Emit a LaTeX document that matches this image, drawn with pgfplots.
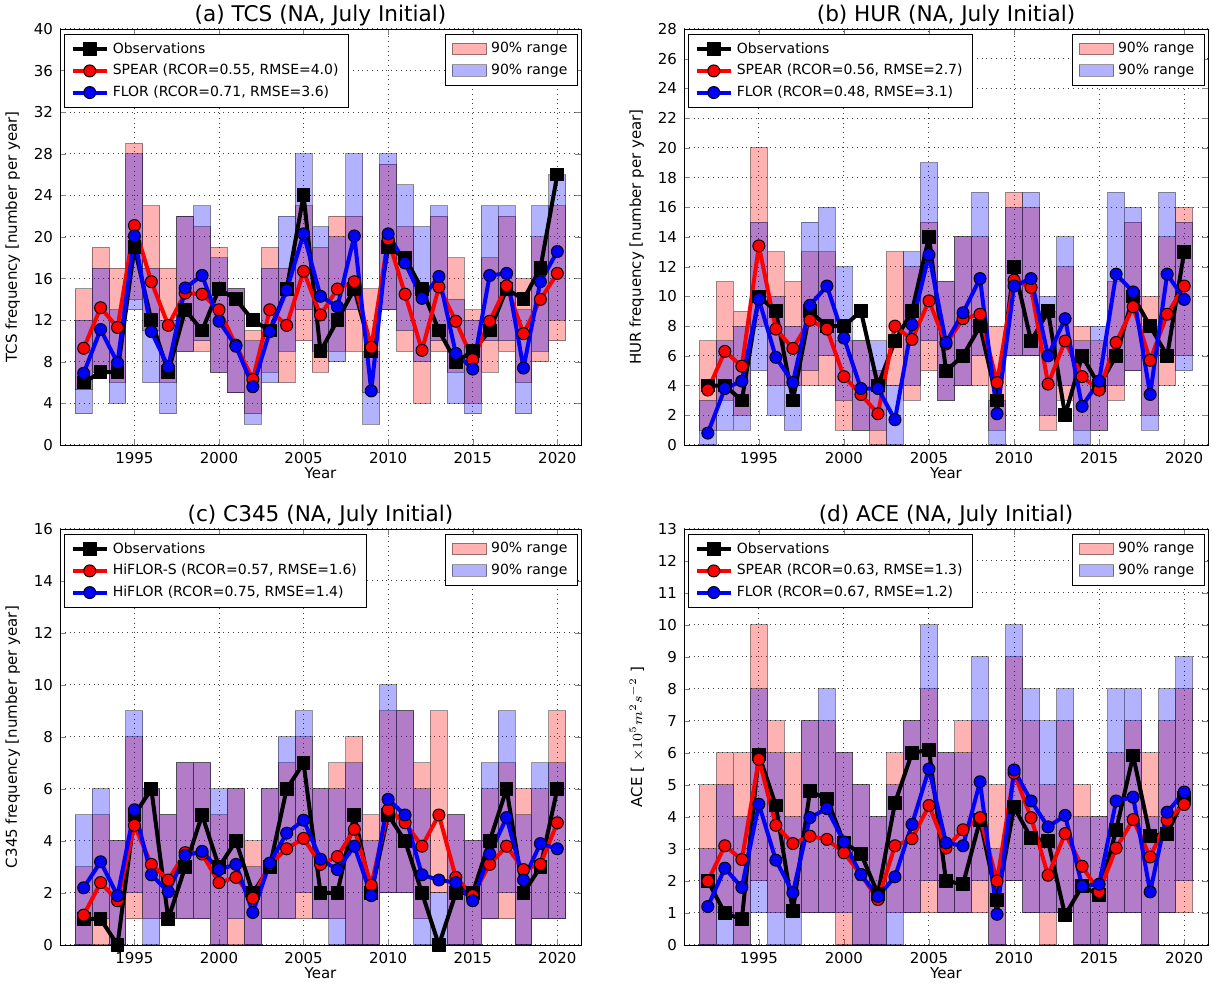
\documentclass[border=0pt]{standalone}
\usepackage{fontspec}
\setmainfont{DejaVu Sans}
\usepackage{pgfplots}
\usepackage{pgfplotstable}
\pgfplotsset{compat=1.18}

% year, observations, model 1 (red), model 2 (blue), red 90% range lo/hi, blue 90% range lo/hi
\pgfplotstableread{
year obs sp fl slo shi flo fhi
1992 6 9.3 6.9 5.3 15 3 12
1993 7 13.2 11.1 7 19 7 17
1994 7 11.3 7.9 6 17 4 13
1995 19 21.1 20.1 14 29 13 28
1996 12 15.7 10.9 11 23 6 17
1997 7 11.5 7.5 6 17 3 12
1998 13 14.6 15.1 9 22 9 22
1999 11 14.5 16.3 9 21 10 23
2000 15 13.0 11.9 7 19 7 18
2001 14 9.6 9.5 5 15 5 15
2002 12 6.3 5.6 3 11 2 10
2003 11 13.0 10.9 7 19 6 17
2004 15 11.5 14.9 6 17 9 22
2005 24 16.7 20.3 10 23 13 28
2006 9 12.5 14.3 7 19 9 21
2007 12 15.0 13.3 9 22 8 20
2008 15 15.7 20.1 9 22 13 28
2009 9 9.4 5.2 5 15 2 9
2010 19 19.8 20.3 13 27 13 28
2011 18 14.5 17.5 9 21 11 25
2012 15 9.1 14.1 4 15 8 21
2013 11 15.2 16.2 9 22 10 23
2014 8 11.9 8.8 7 18 4 14
2015 9 8.2 7.3 4 13 3 12
2016 11 11.9 16.3 7 18 10 23
2017 15 15.3 16.5 9 22 10 23
2018 14 10.7 7.4 6 16 3 13
2019 17 14.0 15.7 8 20 9 23
2020 26 16.5 18.6 10 23 12 26
}\tcs

\pgfplotstableread{
year obs sp fl slo shi flo fhi
1992 4 3.7 0.8 1 7 0 3
1993 4 6.3 3.8 3 11 1 7
1994 3 5.3 4.3 2 9 1 8
1995 10 13.4 9.8 8 20 5 15
1996 9 7.8 5.9 4 13 2 10
1997 3 6.5 4.2 4 11 1 8
1998 9 8.4 9.4 4 13 5 15
1999 8 7.8 10.7 4 13 6 16
2000 8 4.6 7.2 1 7 3 12
2001 9 3.4 3.8 1 7 1 7
2002 4 2.1 3.8 0 5 1 7
2003 7 8.0 1.7 4 13 0 4
2004 9 7.1 8.1 3 12 4 13
2005 14 9.7 12.8 5 15 7 19
2006 5 6.8 6.9 3 11 3 11
2007 6 8.5 8.9 4 14 4 14
2008 8 8.8 11.2 4 14 6 17
2009 3 4.2 2.1 1 8 0 3
2010 12 11.1 10.7 6 17 6 16
2011 7 10.6 11.2 6 16 6 17
2012 9 4.1 6.0 1 9 2 10
2013 2 7.0 8.5 3 12 4 14
2014 6 4.6 2.6 1 8 0 7
2015 4 3.7 4.3 1 7 1 8
2016 6 6.9 11.5 3 11 4 17
2017 10 9.3 10.3 5 15 5 16
2018 8 5.7 3.4 2 10 1 8
2019 6 8.8 11.5 4 14 6 17
2020 13 10.7 9.8 6 16 5 15
}\hur

\pgfplotstableread{
year obs sp fl slo shi flo fhi
1992 1 1.15 2.2 0 3 0 5
1993 1 2.4 3.2 0 5 1 6
1994 0 1.7 1.9 0 4 0 4
1995 5 4.6 5.2 1 8 2 9
1996 6 3.1 2.7 1 6 0 6
1997 1 2.5 2.05 1 5 1 5
1998 3 3.55 3.45 1 7 1 7
1999 5 3.5 3.6 1 7 1 7
2000 3 2.4 2.9 0 5 0 6
2001 4 2.6 3.1 0 6 1 6
2002 2 1.8 1.25 0 4 0 3
2003 3 3.1 3.15 1 6 1 6
2004 6 3.7 4.3 1 7 1 8
2005 7 4.1 4.8 1 8 2 9
2006 2 3.1 3.3 1 6 1 6
2007 2 3.4 2.9 1 7 0 6
2008 5 4.45 3.8 0 8 0 7
2009 2 2.3 1.9 0 5 0 4
2010 5 5.2 5.6 2 9 2 10
2011 4 4.7 5.0 2 9 2 9
2012 2 3.8 2.7 1 7 0 6
2013 0 5.0 2.5 2 9 0 2
2014 2 2.6 2.4 0 5 0 5
2015 2 1.9 1.7 0 4 0 4
2016 4 3.1 3.5 1 6 1 7
2017 6 3.8 4.9 1 7 2 9
2018 2 2.9 2.5 0 6 0 5
2019 3 3.1 3.9 1 6 1 7
2020 6 4.7 3.7 1 9 1 7
}\cfs

\pgfplotstableread{
year obs sp fl slo shi flo fhi
1992 2.0 2.0 1.2 0 5 0 3
1993 1.0 3.1 2.4 1 6 0 5
1994 0.8 2.67 1.8 0 6 0 4
1995 5.95 5.8 4.4 2 10 1 8
1996 4.36 3.74 2.65 1 7 0 6
1997 1.06 3.17 1.63 1 6 0 4
1998 4.8 3.4 3.98 1 7 1 7
1999 4.57 3.3 4.26 1 7 1 8
2000 3.2 2.88 3.22 0 6 1 6
2001 2.85 2.2 2.2 0 5 0 5
2002 1.6 1.42 1.52 0 4 0 4
2003 4.44 3.1 2.13 1 6 0 5
2004 6.0 3.32 3.77 1 7 1 7
2005 6.1 4.36 5.5 1 8 2 10
2006 2.0 3.03 3.19 1 6 1 6
2007 1.9 3.6 3.1 1 7 1 6
2008 3.9 3.98 5.1 1 7 2 9
2009 1.4 2.0 0.96 0 5 0 3
2010 4.3 5.37 5.47 2 9 2 10
2011 3.35 3.98 4.5 1 7 1 8
2012 3.24 2.18 3.69 0 5 1 7
2013 0.93 3.48 4.05 1 7 1 8
2014 1.84 2.46 1.84 0 5 0 4
2015 1.56 1.66 1.9 0 4 0 4
2016 3.6 3.03 4.5 1 6 1 8
2017 5.92 3.92 4.62 1 7 1 8
2018 3.4 2.75 1.66 0 6 0 4
2019 3.48 3.9 4.15 1 7 1 8
2020 4.6 4.39 4.78 1 8 2 9
}\ace

\pgfplotsset{
  base/.style={scale only axis, anchor=south west, height=208pt,
    xmin=1990.6, xmax=2021.4, ymin=0, bar width=1,
    xtick={1995,2000,...,2020},
    xticklabel style={/pgf/number format/1000 sep={}},
    /pgf/number format/assume math mode=true,
    tick label style={font=\fontsize{7.5}{9}\selectfont},
    label style={font=\fontsize{7.5}{9}\selectfont},
    xlabel style={yshift=5pt},
    title style={font=\fontsize{10.8}{12}\selectfont, yshift=-8pt},
    major tick length=3pt,
    legend style={font=\fontsize{7}{8.5}\selectfont, draw=black, line width=0.5pt},
    legend cell align=left},
  rbar/.style={fill=red, fill opacity=0.3, draw=black, draw opacity=0.4, line width=0.5pt},
  bbar/.style={fill=blue, fill opacity=0.3, draw=black, draw opacity=0.4, line width=0.5pt},
  obsline/.style={black, line width=2pt, line join=round, mark=square*, mark size=3.2pt,
    mark options={solid, fill=black, draw=black, line width=0.5pt}},
  redline/.style={red, line width=2pt, line join=round, mark=*, mark size=3pt,
    mark options={solid, fill=red, draw=black, line width=0.5pt}},
  blueline/.style={blue, line width=2pt, line join=round, mark=*, mark size=3pt,
    mark options={solid, fill=blue, draw=black, line width=0.5pt}},
}

% #1 table, #2 x, #3 y, #4 ymax, #5 ytick step, #6 title, #7 ylabel, #8 width
\newcommand{\panel}[8]{%
  \begin{axis}[base, at={(#2,#3)}, width=#8, ymax=#4, ytick distance=#5,
      title={#6}, ylabel={#7}, xlabel={Year}, ybar stacked,
      grid=major, grid style={dotted, black!75, line width=0.5pt},
      legend style={at={(0.994,0.988)}, anchor=north east}]
    \addlegendimage{area legend, rbar}\addlegendentry{90\% range}
    \addlegendimage{area legend, bbar}\addlegendentry{90\% range}
    \addplot[draw=none, fill=none] table[x=year, y=slo] {#1};
    \addplot[rbar] table[x=year, y expr=\thisrow{shi}-\thisrow{slo}] {#1};
  \end{axis}
  \begin{axis}[base, at={(#2,#3)}, width=#8, ymax=#4, hide axis, ybar stacked]
    \addplot[draw=none, fill=none] table[x=year, y=flo] {#1};
    \addplot[bbar] table[x=year, y expr=\thisrow{fhi}-\thisrow{flo}] {#1};
  \end{axis}
  \begin{axis}[base, at={(#2,#3)}, width=#8, ymax=#4, hide axis, clip=false,
      legend style={at={(0.008,0.988)}, anchor=north west}]
    \addplot[obsline] table[x=year, y=obs] {#1};
    \addlegendentry{Observations}
    \addplot[redline] table[x=year, y=sp] {#1};
    \addlegendentry{\legA}
    \addplot[blueline] table[x=year, y=fl] {#1};
    \addlegendentry{\legB}
  \end{axis}%
}

\begin{document}
\begin{tikzpicture}
\useasboundingbox (0,0) rectangle (606pt,492pt);

\def\legA{SPEAR (RCOR=0.55, RMSE=4.0)}
\def\legB{FLOR (RCOR=0.71, RMSE=3.6)}
\panel{\tcs}{30pt}{269.5pt}{40}{4}{(a) TCS (NA, July Initial)}{TCS frequency [number per year]}{260.5pt}

\def\legA{SPEAR (RCOR=0.56, RMSE=2.7)}
\def\legB{FLOR (RCOR=0.48, RMSE=3.1)}
\panel{\hur}{342pt}{269.5pt}{28}{2}{(b) HUR (NA, July Initial)}{HUR frequency [number per year]}{262pt}

\def\legA{HiFLOR-S (RCOR=0.57, RMSE=1.6)}
\def\legB{HiFLOR (RCOR=0.75, RMSE=1.4)}
\panel{\cfs}{30pt}{19.5pt}{16}{2}{(c) C345 (NA, July Initial)}{C345 frequency [number per year]}{260.5pt}

\def\legA{SPEAR (RCOR=0.63, RMSE=1.3)}
\def\legB{FLOR (RCOR=0.67, RMSE=1.2)}
\panel{\ace}{342pt}{19.5pt}{13}{1}{(d) ACE (NA, July Initial)}{ACE [ $\times10^5 m^2 s^{-2}$ ]}{262pt}

\end{tikzpicture}
\end{document}
